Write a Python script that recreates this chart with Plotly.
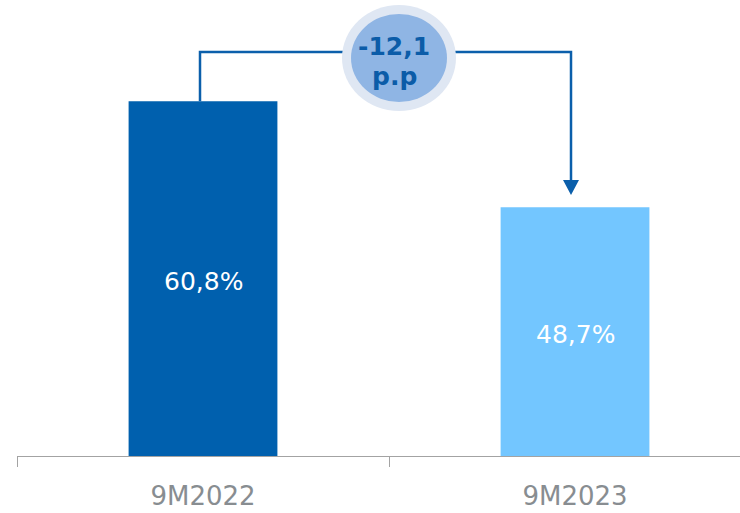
import plotly.graph_objects as go

# ---- data ----
categories = ["9M2022", "9M2023"]
values = [60.8, 48.7]
value_labels = ["60,8%", "48,7%"]
bar_colors = ["#0060ae", "#73c6ff"]
delta_label_top = "-12,1"
delta_label_bottom = "p.p"

# ---- layout constants ----
W, H = 740, 513
M_L, M_B = 17, 57
Y_MIN, Y_MAX = 20.3, 72.35
X_RANGE = [-0.5, 1.4435]
PLOT_H = H - M_B
K = PLOT_H / (Y_MAX - Y_MIN)   # px per unit
CAT_W = (W - M_L) / (X_RANGE[1] - X_RANGE[0])  # px per category


def py2y(py):
    return Y_MAX - py / K


def px2x(px):
    return X_RANGE[0] + (px - M_L) / CAT_W


line_color = "#0b5fab"

fig = go.Figure()
fig.add_trace(go.Bar(
    x=categories, y=values, marker=dict(color=bar_colors, line=dict(width=0)),
    width=0.40, hoverinfo="skip", showlegend=False,
))

# connector on an overlaying linear axis
x_left = px2x(200)
x_right = px2x(571)
y_conn = py2y(52)
y_arrow_base = py2y(180)
y_arrow_tip = py2y(195)
fig.add_trace(go.Scatter(
    x=[x_left, x_left, x_right, x_right],
    y=[values[0], y_conn, y_conn, y_arrow_base],
    mode="lines", line=dict(color=line_color, width=2.5),
    xaxis="x2", hoverinfo="skip", showlegend=False,
))
hw = 8 / CAT_W
fig.add_shape(type="path", xref="x2", yref="y",
              path=f"M {x_right-hw},{y_arrow_base} L {x_right+hw},{y_arrow_base} L {x_right},{y_arrow_tip} Z",
              fillcolor=line_color, line=dict(width=0))

# bubble
cx, cy = px2x(399), py2y(58)
fig.add_shape(type="circle", xref="x2", yref="y", xsizemode="pixel", ysizemode="pixel",
              xanchor=cx, yanchor=cy, x0=-57, x1=57, y0=-53, y1=53,
              fillcolor="#dfe7f3", line=dict(width=0), layer="above")
fig.add_shape(type="circle", xref="x2", yref="y", xsizemode="pixel", ysizemode="pixel",
              xanchor=cx, yanchor=cy, x0=-48, x1=48, y0=-44, y1=44,
              fillcolor="#8fb5e4", line=dict(width=0), layer="above")

fig.add_annotation(x=px2x(394), y=py2y(46), xref="x2", yref="y", text=f"<b>{delta_label_top}</b>",
                   showarrow=False, font=dict(family="DejaVu Sans", size=25, color="#0b5ca8"))
fig.add_annotation(x=px2x(394), y=py2y(76), xref="x2", yref="y", text=f"<b>{delta_label_bottom}</b>",
                   showarrow=False, font=dict(family="DejaVu Sans", size=25, color="#0b5ca8"))

# value labels inside bars
for c, v, t in zip(categories, values, value_labels):
    fig.add_annotation(x=c, y=(v + Y_MIN) / 2, xref="x", yref="y", text=t, showarrow=False,
                       yshift=-3, font=dict(family="DejaVu Sans", size=25, color="white"))

fig.update_layout(
    width=W, height=H,
    margin=dict(l=M_L, r=0, t=0, b=M_B, pad=0, autoexpand=False),
    paper_bgcolor="white", plot_bgcolor="white",
    xaxis=dict(type="category", range=X_RANGE, showline=True, linecolor="#a3a3a3", linewidth=1,
               ticks="outside", tickson="boundaries", ticklen=10, tickcolor="#a3a3a3", tickwidth=1,
               showgrid=False, zeroline=False, ticklabelstandoff=17, automargin=False,
               tickfont=dict(family="DejaVu Sans", size=26, color="#888d91")),
    xaxis2=dict(overlaying="x", range=X_RANGE, visible=False, fixedrange=True, automargin=False),
    yaxis=dict(range=[Y_MIN, Y_MAX], visible=False, showgrid=False, zeroline=False, automargin=False),
    bargap=0.6,
)

fig.write_html("out.html", config={"displayModeBar": False},
               post_script="document.body.style.margin='0';document.body.style.overflow='hidden';")
